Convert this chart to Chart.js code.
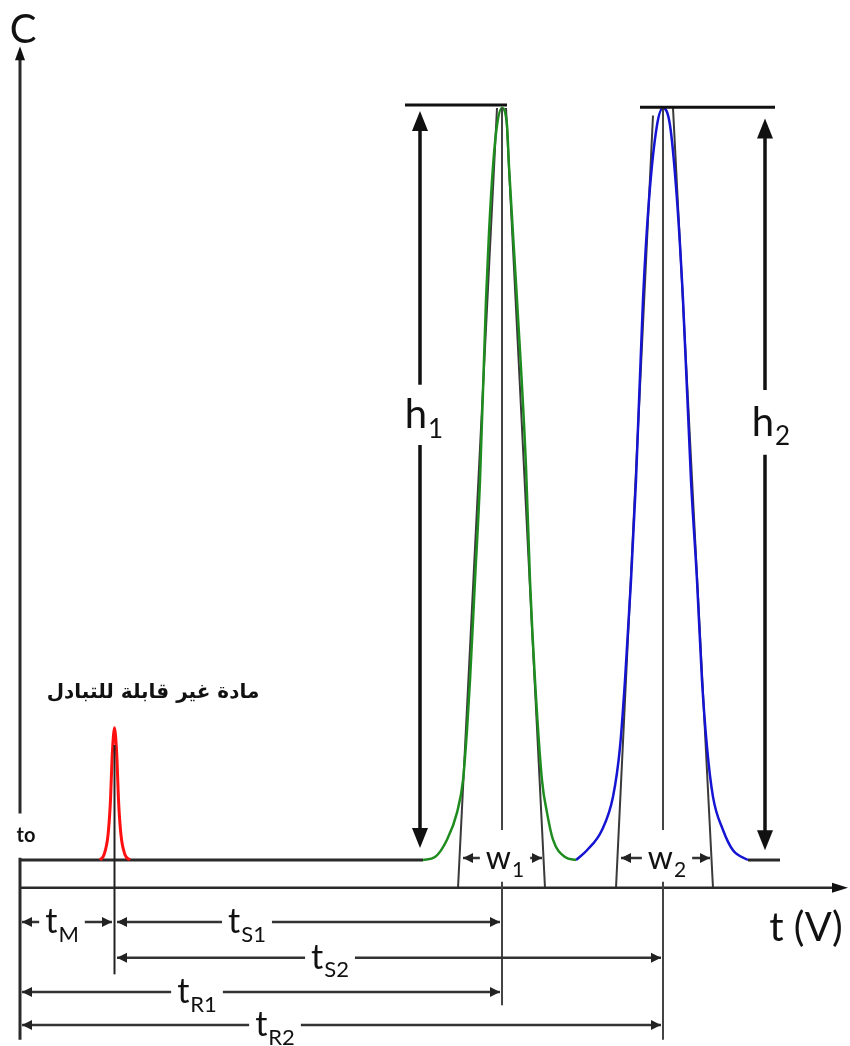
<!DOCTYPE html>
<html>
<head>
<meta charset="utf-8">
<script src="https://cdn.jsdelivr.net/npm/chart.js@4"></script>
<style>
html, body { margin: 0; padding: 0; background: #fff; }
#wrap { width: 850px; height: 1046px; }
</style>
</head>
<body>
<div id="wrap"><canvas id="myChart" width="850" height="1046"></canvas></div>
<script>
var ctx = document.getElementById("myChart").getContext("2d");

// time in arbitrary units (t0 = 0), concentration in % of peak height
const tM = 9.45;
const tR1 = 48.2;
const tR2 = 64.3;
const axisY = -3.7;

// flat baseline pieces
const baseX = [0, 40.3];
const baseY = [0, 0];
const tailX = [72.8, 76.0];
const tailY = [0, 0];

// unretained compound (red)
const redX = [8.0, 8.4, 8.8, 9.05, 9.2, 9.35, 9.45, 9.55, 9.7, 9.85, 10.1, 10.5, 11.0];
const redY = [0, 0.7, 3.3, 8.0, 13.3, 16.6, 17.6, 16.6, 13.3, 8.0, 3.3, 0.7, 0];

// first peak (green)
const greenX = [40.3, 41.5, 42.7, 43.7, 44.3, 44.7, 45.0, 45.5, 46.0, 46.6, 46.9, 47.3, 47.7, 48.2,
                48.7, 48.9, 49.7, 50.6, 51.0, 51.5, 52.2, 52.7, 53.3, 54.5, 55.6];
const greenY = [0, 0.4, 2.7, 6.3, 10.6, 17.3, 23.9, 37.2, 50.5, 74.5, 83.4, 92.2, 97.7, 100,
                97.7, 92.2, 74.5, 52.3, 37.2, 23.9, 10.6, 6.3, 2.7, 0.4, 0];

// second peak (blue)
const blueX = [55.6, 56.7, 58.2, 59.3, 60.0, 60.5, 61.1, 61.6, 62.3, 62.9, 63.7, 64.3,
               65.0, 65.7, 66.3, 67.1, 67.7, 68.2, 68.7, 69.3, 70.3, 71.3, 72.8];
const blueY = [0, 1.3, 4.0, 8.4, 15.0, 23.9, 37.2, 50.5, 74.5, 87.8, 97.7, 100,
               97.7, 87.8, 74.5, 50.5, 37.2, 23.9, 15.0, 8.4, 4.0, 1.3, 0];

// tangents to the peak flanks (give the base widths w1, w2)
const tangentX = [[43.8, 47.7], [52.5, 48.6], [59.6, 63.3], [69.3, 65.3]];
const tangentY = [[axisY, 100], [axisY, 100], [axisY, 99], [axisY, 100]];

function pts(xs, ys) {
  return xs.map((x, i) => ({ x: x, y: ys[i] }));
}

function lineSet(xs, ys, color, width, order) {
  return {
    data: pts(xs, ys),
    showLine: true,
    borderColor: color,
    borderWidth: width,
    pointRadius: 0,
    fill: false,
    cubicInterpolationMode: "monotone",
    order: order
  };
}

const datasets = [
  lineSet(redX, redY, "#ff1010", 3, 1),
  lineSet(greenX, greenY, "#1e8c1e", 2.5, 1),
  lineSet(blueX, blueY, "#1414d2", 2.5, 1),
  lineSet(baseX, baseY, "#2a2a2a", 3, 2),
  lineSet(tailX, tailY, "#2a2a2a", 3, 2)
];
tangentX.forEach((tx, i) => {
  datasets.push(lineSet(tx, tangentY[i], "#3a3a3a", 2, 3));
});

const FONT = "Lato, 'Open Sans', sans-serif";

function arrowHead(c, x1, y1, x2, y2, len, half) {
  const a = Math.atan2(y2 - y1, x2 - x1);
  c.beginPath();
  c.moveTo(x2, y2);
  c.lineTo(x2 - len * Math.cos(a) + half * Math.sin(a), y2 - len * Math.sin(a) - half * Math.cos(a));
  c.lineTo(x2 - len * Math.cos(a) - half * Math.sin(a), y2 - len * Math.sin(a) + half * Math.cos(a));
  c.closePath();
  c.fill();
}

function seg(c, x1, y1, x2, y2) {
  c.beginPath();
  c.moveTo(x1, y1);
  c.lineTo(x2, y2);
  c.stroke();
}

function label(c, main, sub, x, y, size, bg) {
  const subSize = Math.round(size * 0.66);
  c.font = size + "px " + FONT;
  const w1 = c.measureText(main).width;
  c.font = subSize + "px " + FONT;
  const w2 = sub ? c.measureText(sub).width : 0;
  const total = w1 + w2 + (sub ? 1 : 0);
  const left = x - total / 2;
  if (bg) {
    c.fillStyle = "#fff";
    c.fillRect(left - 6, y - size * 0.5, total + 12, size * 1.0);
  }
  c.fillStyle = "#111";
  c.textAlign = "left";
  c.textBaseline = "alphabetic";
  c.font = size + "px " + FONT;
  c.fillText(main, left, y + size * 0.33);
  if (sub) {
    c.font = subSize + "px " + FONT;
    c.fillText(sub, left + w1 + 1, y + size * 0.33 + subSize * 0.38);
  }
}

const annotations = {
  id: "annotations",
  afterDatasetsDraw(chart) {
    const c = chart.ctx;
    const X = v => chart.scales.x.getPixelForValue(v);
    const Y = v => chart.scales.y.getPixelForValue(v);
    c.save();

    // axes (the C axis is broken where the "to" mark sits)
    c.strokeStyle = "#2a2a2a";
    c.fillStyle = "#111";
    c.lineWidth = 3;
    seg(c, X(0), Y(-23.9), X(0), Y(0.3));
    seg(c, X(0), Y(6.2), X(0), Y(106.5));
    arrowHead(c, X(0), Y(0), X(0), Y(108.2), 14, 5);
    c.lineWidth = 2.5;
    seg(c, X(0), Y(axisY), X(81.5), Y(axisY));
    arrowHead(c, X(0), Y(axisY), X(82.8), Y(axisY), 16, 5);

    // retention verticals
    c.strokeStyle = "#444";
    c.lineWidth = 2;
    seg(c, X(tR1), Y(100), X(tR1), Y(4.0));
    seg(c, X(tR1), Y(-2.9), X(tR1), Y(-19.3));
    seg(c, X(tR2), Y(100), X(tR2), Y(4.0));
    seg(c, X(tR2), Y(-2.9), X(tR2), Y(-23.9));
    c.strokeStyle = "#222";
    seg(c, X(tM), Y(15.3), X(tM), Y(-15.2));

    // peak height markers
    c.strokeStyle = "#111";
    c.lineWidth = 3;
    seg(c, X(38.5), Y(100.4), X(48.7), Y(100.4));
    seg(c, X(62.0), Y(100.1), X(75.5), Y(100.1));

    c.lineWidth = 3.5;
    seg(c, X(40.0), Y(97), X(40.0), Y(63.2));
    seg(c, X(40.0), Y(55.2), X(40.0), Y(3));
    arrowHead(c, X(40.0), Y(90), X(40.0), Y(99.6), 20, 8);
    arrowHead(c, X(40.0), Y(10), X(40.0), Y(1.6), 20, 8);
    seg(c, X(74.5), Y(96), X(74.5), Y(62.5));
    seg(c, X(74.5), Y(53.9), X(74.5), Y(3));
    arrowHead(c, X(74.5), Y(90), X(74.5), Y(98.6), 20, 8);
    arrowHead(c, X(74.5), Y(10), X(74.5), Y(1.3), 20, 8);

    // double arrows for times and widths
    const dbl = (x1, x2, y) => {
      c.strokeStyle = "#333";
      c.fillStyle = "#222";
      c.lineWidth = 2.5;
      seg(c, X(x1), Y(y), X(x2), Y(y));
      arrowHead(c, X(x2), Y(y), X(x1), Y(y), 10, 5);
      arrowHead(c, X(x1), Y(y), X(x2), Y(y), 10, 5);
    };
    dbl(0.2, tM - 0.25, -8.24);
    dbl(tM + 0.25, tR1 - 0.2, -8.24);
    dbl(tM + 0.25, tR2 - 0.2, -13.0);
    dbl(0.2, tR1 - 0.2, -17.55);
    dbl(0.2, tR2 - 0.2, -21.94);
    dbl(44.3, 52.2, 0.27);
    dbl(60.1, 69.0, 0.27);

    label(c, "t", "M", X(4.2), Y(-8.24), 34, true);
    label(c, "t", "S1", X(22.7), Y(-8.24), 34, true);
    label(c, "t", "S2", X(31.0), Y(-13.0), 34, true);
    label(c, "t", "R1", X(17.7), Y(-17.55), 34, true);
    label(c, "t", "R2", X(25.5), Y(-21.94), 34, true);
    label(c, "w", "1", X(48.5), Y(0.27), 32, true);
    label(c, "w", "2", X(64.7), Y(0.27), 32, true);
    label(c, "h", "1", X(40.4), Y(59.2), 40, false);
    label(c, "h", "2", X(75.1), Y(58.2), 40, false);
    label(c, "t (V)", "", X(78.6), Y(-9.0), 40, false);
    label(c, "C", "", X(0.3), Y(110.4), 40, false);

    c.fillStyle = "#111";
    c.textAlign = "center";
    c.textBaseline = "middle";
    c.font = "bold 20px " + FONT;
    c.fillText("to", X(0.6), Y(3.3));
    c.font = "bold 20px 'DejaVu Sans', sans-serif";
    c.fillText("مادة غير قابلة للتبادل", X(13.3), Y(22.3));

    c.restore();
  }
};

var chart = new Chart(ctx, {
  type: "scatter",
  data: { datasets: datasets },
  options: {
    responsive: false,
    animation: false,
    devicePixelRatio: 1,
    layout: { padding: 0 },
    plugins: { legend: { display: false }, tooltip: { enabled: false } },
    scales: {
      x: { type: "linear", display: false, min: -2, max: 83 },
      y: { type: "linear", display: false, min: -24.73, max: 114.36 }
    }
  },
  plugins: [annotations]
});
</script>
</body>
</html>
